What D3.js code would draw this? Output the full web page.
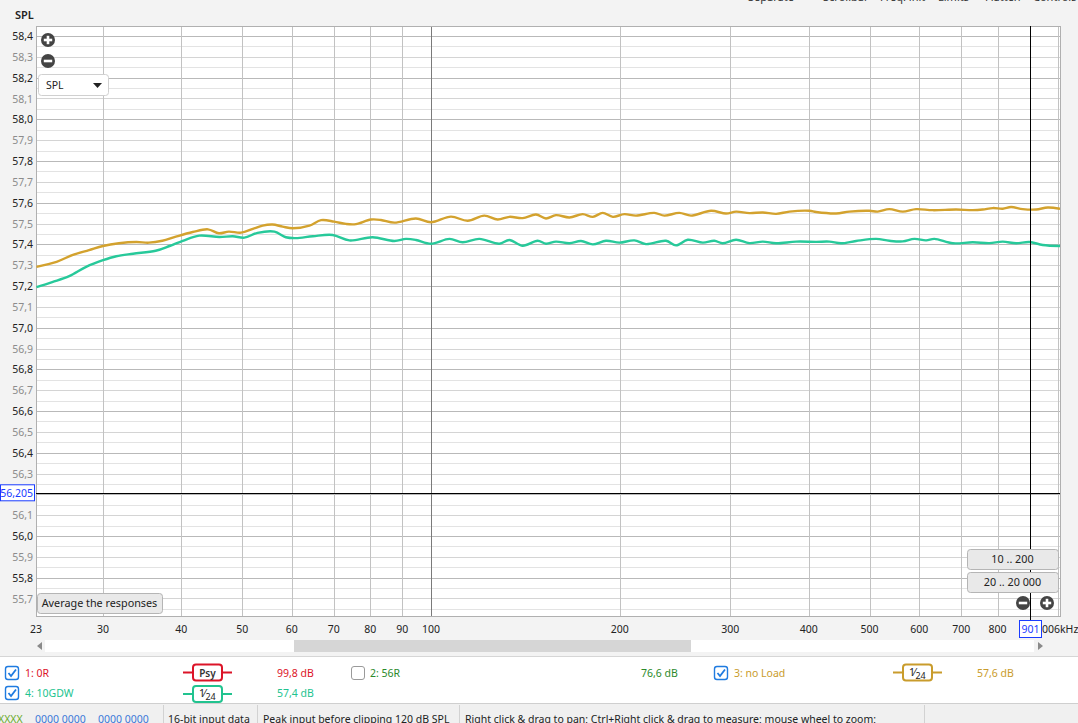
<!DOCTYPE html>
<html><head><meta charset="utf-8">
<script src="https://cdn.jsdelivr.net/npm/d3@7"></script>
<style>
html,body{margin:0;padding:0;background:#f3f3f3;overflow:hidden}
svg{display:block;font-family:"Noto Sans",sans-serif}
</style></head>
<body>
<script>
// ---- data ----
const goldFreq = [23.5,25.3,26.8,28.5,30.0,31.8,33.9,35.5,37.3,39.2,41.7,44.1,45.9,47.6,49.8,52.0,53.9,55.9,58.0,60.2,64.0,66.8,70.1,73.2,75.9,80.2,83.2,87.4,94.6,100,107.6,114.4,121.6,127.7,133.3,140.0,147.0,152.5,158.2,166.2,174.5,181.1,187.8,194.9,203.3,212.2,227.0,235.5,248.8,259.7,279.5,295.3,306.4,321.7,338.0,354.8,372.6,401.0,411.0,442.2,464.3,499.6,515.3,537.7,564.9,593.2,630.5,687.1,730.3,757.6,786.0,815.4,840.6,877.5,921.6,961.8,1006];
const goldSpl = [57.292,57.316,57.348,57.372,57.392,57.405,57.411,57.408,57.417,57.437,57.459,57.472,57.453,57.461,57.456,57.474,57.490,57.495,57.485,57.477,57.490,57.516,57.509,57.498,57.497,57.519,57.517,57.504,57.524,57.506,57.533,57.513,57.538,57.519,57.532,57.526,57.543,57.524,57.540,57.529,57.545,57.532,57.551,57.532,57.545,57.538,57.551,57.538,57.551,57.538,57.561,57.548,57.557,57.550,57.553,57.546,57.557,57.561,57.555,57.548,57.557,57.561,57.557,57.569,57.557,57.569,57.564,57.567,57.564,57.567,57.574,57.571,57.579,57.569,57.567,57.577,57.571];
const tealFreq = [23.5,24.9,26.5,28.2,30.0,31.5,33.5,36.4,38.3,40.2,42.7,46.0,48.3,50.4,52.9,56.3,58.7,60.9,64.8,69.7,74.1,80.7,87.4,91.2,94.6,100,107.0,112.3,119.4,128.5,133.3,140.0,147.9,152.5,158.2,166.2,173.4,181.1,190.1,199.6,210.9,220.1,236.9,245.8,256.6,271.2,282.9,291.7,306.4,321.7,338.0,354.8,381.9,411.0,431.5,450.4,475.9,512.2,537.7,564.9,589.5,615.4,634.4,678.9,730.3,776.2,815.4,856.2,899.1,944.3,1006];
const tealSpl = [57.195,57.219,57.247,57.292,57.324,57.343,57.355,57.369,57.392,57.417,57.442,57.435,57.439,57.432,57.455,57.461,57.434,57.430,57.439,57.445,57.419,57.434,57.416,57.426,57.421,57.403,57.426,57.410,57.426,57.403,57.421,57.393,57.417,57.403,57.413,57.405,57.416,57.400,57.417,57.408,57.419,57.401,57.417,57.395,57.422,57.408,57.417,57.405,57.422,57.406,57.413,57.405,57.413,57.412,57.413,57.405,57.416,57.426,57.417,57.414,57.426,57.419,57.426,57.405,57.410,57.406,57.413,57.405,57.411,57.397,57.392];
const yTickValues = [55.7,55.8,55.9,56.0,56.1,56.3,56.4,56.5,56.6,56.7,56.8,56.9,57.0,57.1,57.2,57.3,57.4,57.5,57.6,57.7,57.8,57.9,58.0,58.1,58.2,58.3,58.4];
const xTickValues = [30,40,50,60,70,80,90,100,200,300,400,500,600,700,800];
const xGridValues = [30,40,50,60,70,80,90,100,200,300,400,500,600,700,800,900,1000];
const cursorFreq = 901, cursorSpl = 56.205;
const freqMin = 23.46, freqMax = 1006, splMin = 55.616, splMax = 58.448;

const W = 1078, H = 723;
const L = 36, R = 1060, T = 26, B = 616;
const svg = d3.select("body").append("svg").attr("width", W).attr("height", H);
svg.append("rect").attr("width", W).attr("height", H).attr("fill", "#f3f3f3");

const x = d3.scaleLog().domain([freqMin, freqMax]).range([L, R]);
const y = d3.scaleLinear().domain([splMin, splMax]).range([B, T]);

// top cut-off toolbar text
const topWords = [["Separate",748],["Scrollbar",823],["Freq. init",880],["Limits",938],["Flatten",985],["Controls",1033]];
svg.selectAll("text.tw").data(topWords).join("text").attr("x", d => d[1]).attr("y", 1)
  .attr("font-size", 11).attr("fill", "#333").text(d => d[0]);

svg.append("text").attr("x", 15).attr("y", 19).attr("font-size", 11).attr("font-weight", 600).attr("fill", "#222").text("SPL");

// plot background
svg.append("rect").attr("x", L).attr("y", T).attr("width", R - L).attr("height", B - T).attr("fill", "#fff");

// horizontal grid every 0.05
const hLines = d3.range(Math.round(splMin * 20) + 1, Math.floor(splMax * 20) + 1).map(k => k / 20);
svg.append("g").selectAll("line").data(hLines).join("line")
  .attr("x1", L).attr("x2", R)
  .attr("y1", d => Math.round(y(d)) + 0.5).attr("y2", d => Math.round(y(d)) + 0.5)
  .attr("stroke", d => {
    const k = Math.round(d * 20);
    if (k % 2 === 1) return "#e3e3e3";
    return (k / 2) % 2 === 0 ? "#b9b9b9" : "#d4d4d4";
  });
// vertical grid
svg.append("g").selectAll("line").data(xGridValues).join("line")
  .attr("x1", d => Math.round(x(d)) + 0.5).attr("x2", d => Math.round(x(d)) + 0.5)
  .attr("y1", T).attr("y2", B)
  .attr("stroke", d => d === 100 ? "#7a7a7a" : "#c2c2c2");
// frame
svg.append("rect").attr("x", L + 0.5).attr("y", T + 0.5).attr("width", R - L).attr("height", B - T)
  .attr("fill", "none").attr("stroke", "#b0b0b0");

// curves
svg.append("clipPath").attr("id", "clip").append("rect").attr("x", L).attr("y", T).attr("width", R - L).attr("height", B - T);
const line = d3.line().x(d => x(d[0])).y(d => y(d[1])).curve(d3.curveCatmullRom.alpha(0.5));
const gCurves = svg.append("g").attr("clip-path", "url(#clip)");
gCurves.append("path").datum(d3.zip(goldFreq, goldSpl)).attr("d", line)
  .attr("fill", "none").attr("stroke", "#d3a22e").attr("stroke-width", 2.4).attr("stroke-linejoin", "round");
gCurves.append("path").datum(d3.zip(tealFreq, tealSpl)).attr("d", line)
  .attr("fill", "none").attr("stroke", "#27c99a").attr("stroke-width", 2.4).attr("stroke-linejoin", "round");

// cursor lines
svg.append("line").attr("x1", L).attr("x2", R).attr("y1", Math.round(y(cursorSpl)) + 0.5).attr("y2", Math.round(y(cursorSpl)) + 0.5).attr("stroke", "#000");
svg.append("line").attr("x1", Math.round(x(cursorFreq)) + 0.5).attr("x2", Math.round(x(cursorFreq)) + 0.5).attr("y1", T).attr("y2", B + 4).attr("stroke", "#000");

// y tick labels
svg.append("g").selectAll("text").data(yTickValues).join("text")
  .attr("x", 33).attr("y", d => y(d) + 4).attr("text-anchor", "end").attr("font-size", 10.5)
  .attr("fill", d => Math.round(d * 10) % 2 === 0 ? "#222" : "#8c8c8c")
  .text(d => d.toFixed(1).replace(".", ","));
// cursor y label
const cy = y(cursorSpl);
svg.append("rect").attr("x", 0.5).attr("y", cy - 8.5).attr("width", 34).attr("height", 16).attr("fill", "#fff").attr("stroke", "#1a3cff");
svg.append("text").attr("x", 33).attr("y", cy + 4).attr("text-anchor", "end").attr("font-size", 10.5).attr("fill", "#1a3cff")
  .text(cursorSpl.toFixed(3).replace(".", ","));

// x tick labels
const xLab = svg.append("g").attr("font-size", 10.5).attr("fill", "#222").attr("text-anchor", "middle");
xLab.selectAll("text").data(xTickValues).join("text").attr("x", d => x(d)).attr("y", 633).text(d => d);
xLab.append("text").attr("x", L).attr("y", 633).text("23");
const cx = x(cursorFreq);
xLab.append("text").attr("x", Math.round(cx) + 12).attr("y", 633).attr("text-anchor", "start").text("006kHz");
svg.append("rect").attr("x", Math.round(cx) - 10.5).attr("y", 620.5).attr("width", 22).attr("height", 17).attr("fill", "#fff").attr("stroke", "#1a3cff");
svg.append("text").attr("x", Math.round(cx) + 0.5).attr("y", 633).attr("text-anchor", "middle").attr("font-size", 10.5).attr("fill", "#1a3cff").text(cursorFreq);

// zoom icons
function zoomIcon(cxp, cyp, plus) {
  const g = svg.append("g");
  g.append("circle").attr("cx", cxp).attr("cy", cyp).attr("r", 7).attr("fill", "#444");
  g.append("rect").attr("x", cxp - 4.2).attr("y", cyp - 1.3).attr("width", 8.4).attr("height", 2.6).attr("fill", "#fff");
  if (plus) g.append("rect").attr("x", cxp - 1.3).attr("y", cyp - 4.2).attr("width", 2.6).attr("height", 8.4).attr("fill", "#fff");
}
zoomIcon(48, 40, true); zoomIcon(48, 61, false);
zoomIcon(1023, 603, false); zoomIcon(1047, 603, true);

// SPL dropdown
svg.append("rect").attr("x", 38.5).attr("y", 74.5).attr("width", 70).attr("height", 21).attr("rx", 3).attr("fill", "#fff").attr("stroke", "#d0d0d0");
svg.append("text").attr("x", 46).attr("y", 89).attr("font-size", 10.5).attr("fill", "#222").text("SPL");
svg.append("path").attr("d", "M93,83 L102,83 L97.5,88 Z").attr("fill", "#222");

// buttons
function button(bx, by, bw, bh, label) {
  svg.append("rect").attr("x", bx + 0.5).attr("y", by + 0.5).attr("width", bw).attr("height", bh).attr("rx", 3)
    .attr("fill", "#e9e9e9").attr("stroke", "#b5b5b5");
  svg.append("text").attr("x", bx + bw / 2).attr("y", by + bh / 2 + 4).attr("text-anchor", "middle").attr("font-size", 10.8).attr("fill", "#222").text(label);
}
button(37, 593, 125, 20, "Average the responses");
button(967, 549, 91, 20, "10 .. 200");
button(967, 572, 91, 20, "20 .. 20 000");

// scrollbar
svg.append("rect").attr("x", 45).attr("y", 640).attr("width", 989).attr("height", 12).attr("fill", "#fff");
svg.append("rect").attr("x", 294).attr("y", 640).attr("width", 397).attr("height", 12).attr("fill", "#d6d6d6");
svg.append("path").attr("d", "M37,646 L42,642 L42,650 Z").attr("fill", "#8a8a8a");
svg.append("path").attr("d", "M1043,646 L1038,642 L1038,650 Z").attr("fill", "#8a8a8a");

// legend panel
svg.append("rect").attr("x", 0).attr("y", 656).attr("width", W).attr("height", 47).attr("fill", "#fff");
svg.append("line").attr("x1", 0).attr("x2", W).attr("y1", 656.5).attr("y2", 656.5).attr("stroke", "#d6d6d6");
svg.append("line").attr("x1", 0).attr("x2", W).attr("y1", 703.5).attr("y2", 703.5).attr("stroke", "#cfcfcf");

function checkbox(bx, by, checked) {
  svg.append("rect").attr("x", bx + 0.5).attr("y", by + 0.5).attr("width", 13).attr("height", 13).attr("rx", 2.5)
    .attr("fill", "#fff").attr("stroke", checked ? "#1f7be0" : "#9a9a9a").attr("stroke-width", checked ? 1.4 : 1);
  if (checked) svg.append("path").attr("d", `M${bx + 3.5},${by + 7} L${bx + 6},${by + 10} L${bx + 11},${by + 3.5}`)
    .attr("fill", "none").attr("stroke", "#1f7be0").attr("stroke-width", 1.8);
}
function ltext(tx, ty, s, col) {
  svg.append("text").attr("x", tx).attr("y", ty).attr("font-size", 10.5).attr("fill", col).text(s);
}
function smoothBox(bx, by, col, kind) {
  svg.append("line").attr("x1", bx - 10).attr("x2", bx + 39).attr("y1", by + 8).attr("y2", by + 8).attr("stroke", col).attr("stroke-width", 2);
  svg.append("rect").attr("x", bx).attr("y", by).attr("width", 29).attr("height", 16).attr("rx", 3)
    .attr("fill", "#fff").attr("stroke", col).attr("stroke-width", 2);
  if (kind === "psy") {
    svg.append("text").attr("x", bx + 14.5).attr("y", by + 12).attr("text-anchor", "middle").attr("font-size", 10).attr("font-weight", 600).attr("fill", "#333").text("Psy");
  } else {
    const t = svg.append("text").attr("x", bx + 6).attr("y", by + 11).attr("font-size", 10.5).attr("fill", "#222");
    t.append("tspan").text("1");
    t.append("tspan").attr("dx", -1).text("⁄");
    t.append("tspan").attr("dy", 3).attr("font-size", 9).text("24");
  }
}
const red = "#dc1428", green = "#2b8a2b", gold = "#c99c2c", teal = "#21c38f";
checkbox(5, 666, true); ltext(25, 677, "1: 0R", red); smoothBox(193, 664.5, red, "psy"); ltext(277, 677, "99,8 dB", red);
checkbox(351, 666, false); ltext(370, 677, "2: 56R", green); ltext(641, 677, "76,6 dB", green);
checkbox(714, 666, true); ltext(734, 677, "3: no Load", gold); smoothBox(903, 664.5, gold, "24"); ltext(977, 677, "57,6 dB", gold);
checkbox(5, 686, true); ltext(25, 697, "4: 10GDW", teal); smoothBox(193, 686, teal, "24"); ltext(277, 697, "57,4 dB", teal);

// status bar
svg.append("rect").attr("x", 0).attr("y", 704).attr("width", W).attr("height", 19).attr("fill", "#f0f0f0");
[163, 257, 459, 924].forEach(sx => svg.append("line").attr("x1", sx + 0.5).attr("x2", sx + 0.5).attr("y1", 705).attr("y2", H).attr("stroke", "#d2d2d2"));
ltext(-2, 723, "XXXX", "#6aaa2a");
ltext(35, 723, "0000 0000", "#3d78d8");
ltext(98, 723, "0000 0000", "#3d78d8");
ltext(168, 723, "16-bit input data", "#222");
ltext(263, 723, "Peak input before clipping 120 dB SPL", "#222");
ltext(465, 723, "Right click & drag to pan; Ctrl+Right click & drag to measure; mouse wheel to zoom;", "#222");
</script>
</body></html>
